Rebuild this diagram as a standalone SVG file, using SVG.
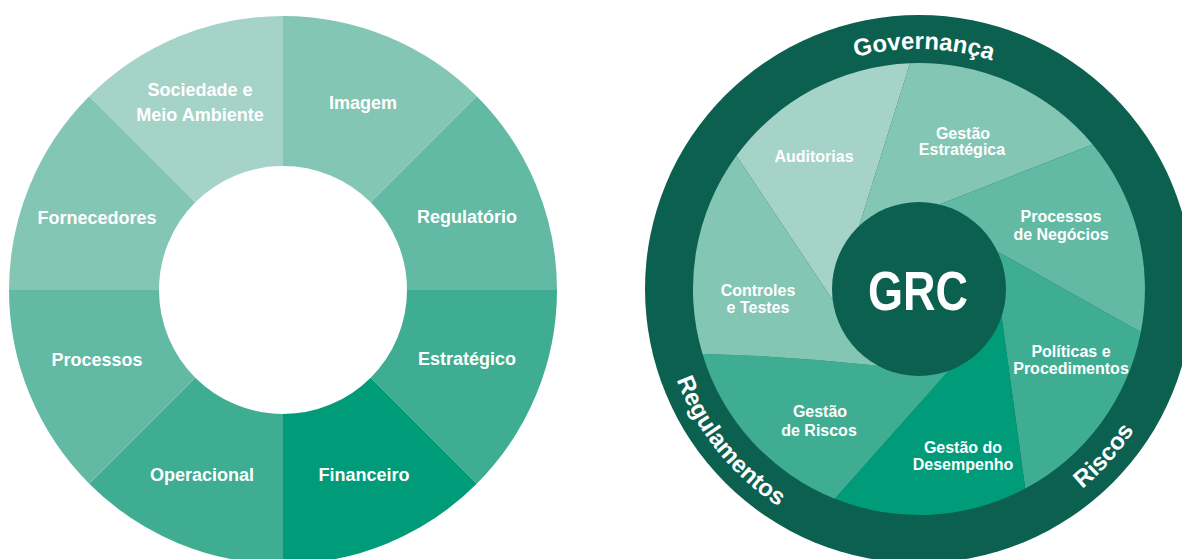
<svg xmlns="http://www.w3.org/2000/svg" width="1182" height="559" viewBox="0 0 1182 559">
<style>
text{font-family:"Liberation Sans",Arial,sans-serif;font-weight:bold;fill:#ffffff;text-anchor:middle}
.l{font-size:18px}
.s{font-size:16px}
.ring{font-size:24px}
.c1{fill:#a6d3c7}.c2{fill:#82c6b3}.c3{fill:#62b9a4}.c4{fill:#3fad92}.c5{fill:#009b78}.dk{fill:#0c604f}
</style>
<defs>
<path id="pTop" d="M710.6,163.4 A245,245 0 0,1 1131.4,173.7"/>
<path id="pReg" d="M664.9,239.9 A259,259 0 0,0 912.6,547.9"/>
<path id="pRis" d="M999,534.9 A259,259 0 0,0 1170.6,342.3"/>
</defs>
<rect width="1182" height="559" fill="#ffffff"/>
<g id="left-wheel">
<g id="imagem"><path class="c2" d="M283,16 A274,274 0 0 1 476.75,96.25 L370.68,202.32 A124,124 0 0 0 283,166 Z"/><text class="l" x="363" y="109">Imagem</text></g>
<g id="regulatorio"><path class="c3" d="M476.75,96.25 A274,274 0 0 1 557,290 L407,290 A124,124 0 0 0 370.68,202.32 Z"/><text class="l" x="467" y="223">Regulatório</text></g>
<g id="estrategico"><path class="c4" d="M557,290 A274,274 0 0 1 476.75,483.75 L370.68,377.68 A124,124 0 0 0 407,290 Z"/><text class="l" x="467" y="365">Estratégico</text></g>
<g id="financeiro"><path class="c5" d="M476.75,483.75 A274,274 0 0 1 283,564 L283,414 A124,124 0 0 0 370.68,377.68 Z"/><text class="l" x="364" y="481">Financeiro</text></g>
<g id="operacional"><path class="c4" d="M283,564 A274,274 0 0 1 89.25,483.75 L195.32,377.68 A124,124 0 0 0 283,414 Z"/><text class="l" x="202" y="481">Operacional</text></g>
<g id="processos"><path class="c3" d="M89.25,483.75 A274,274 0 0 1 9,290 L159,290 A124,124 0 0 0 195.32,377.68 Z"/><text class="l" x="97" y="366">Processos</text></g>
<g id="fornecedores"><path class="c2" d="M9,290 A274,274 0 0 1 89.25,96.25 L195.32,202.32 A124,124 0 0 0 159,290 Z"/><text class="l" x="97" y="224">Fornecedores</text></g>
<g id="sociedade"><path class="c1" d="M89.25,96.25 A274,274 0 0 1 283,16 L283,166 A124,124 0 0 0 195.32,202.32 Z"/><text class="l" x="200" y="96">Sociedade e</text><text class="l" x="200" y="121">Meio Ambiente</text></g>
</g>
<g id="right-wheel">
<g id="outer-ring"><circle class="dk" cx="919" cy="289" r="274"/>
<text class="ring"><textPath href="#pTop" startOffset="50%">Governança</textPath></text>
<text class="ring"><textPath href="#pReg" startOffset="50%">Regulamentos</textPath></text>
<text class="ring"><textPath href="#pRis" startOffset="50%">Riscos</textPath></text>
</g>
<g id="auditorias"><path class="c1" d="M919,289 L832.6,299.9 L736.4,155.8 A226,226 0 0 1 910,63.2 L859.3,225.6 Z"/><text class="s" x="814" y="162">Auditorias</text></g>
<g id="gestao-estrategica"><path class="c2" d="M919,289 L859.3,225.6 L910,63.2 A226,226 0 0 1 1092.7,144.5 L939.4,204.4 Z"/><text class="s" x="963" y="139">Gestão</text><text class="s" x="962" y="155">Estratégica</text></g>
<g id="processos-negocios"><path class="c3" d="M919,289 L939.4,204.4 L1092.7,144.5 A226,226 0 0 1 1140.8,332.2 L997.8,251.8 Z"/><text class="s" x="1061" y="222">Processos</text><text class="s" x="1061" y="240">de Negócios</text></g>
<g id="politicas"><path class="c4" d="M919,289 L997.8,251.8 L1140.8,332.2 A226,226 0 0 1 1025.2,488.5 L1001.5,316.4 Z"/><text class="s" x="1071" y="357">Políticas e</text><text class="s" x="1071" y="374">Procedimentos</text></g>
<g id="desempenho"><path class="c5" d="M919,289 L1001.5,316.4 L1025.2,488.5 A226,226 0 0 1 834.7,498.7 L948.4,370.9 Z"/><text class="s" x="963" y="453">Gestão do</text><text class="s" x="963" y="470">Desempenho</text></g>
<g id="gestao-riscos"><path class="c4" d="M919,289 L948.4,370.9 L834.7,498.7 A226,226 0 0 1 702.5,353.9 Q790,356 878.2,365.8 Z"/><text class="s" x="820" y="417">Gestão</text><text class="s" x="819" y="436">de Riscos</text></g>
<g id="controles"><path class="c2" d="M919,289 L878.2,365.8 Q790,356 702.5,353.9 A226,226 0 0 1 736.4,155.8 L832.6,299.9 Z"/><text class="s" x="758" y="296">Controles</text><text class="s" x="758" y="313">e Testes</text></g>
<g id="grc"><circle class="dk" cx="919" cy="289" r="87"/><text x="918" y="310" style="font-size:56px" textLength="100" lengthAdjust="spacingAndGlyphs">GRC</text></g>
</g>
</svg>
